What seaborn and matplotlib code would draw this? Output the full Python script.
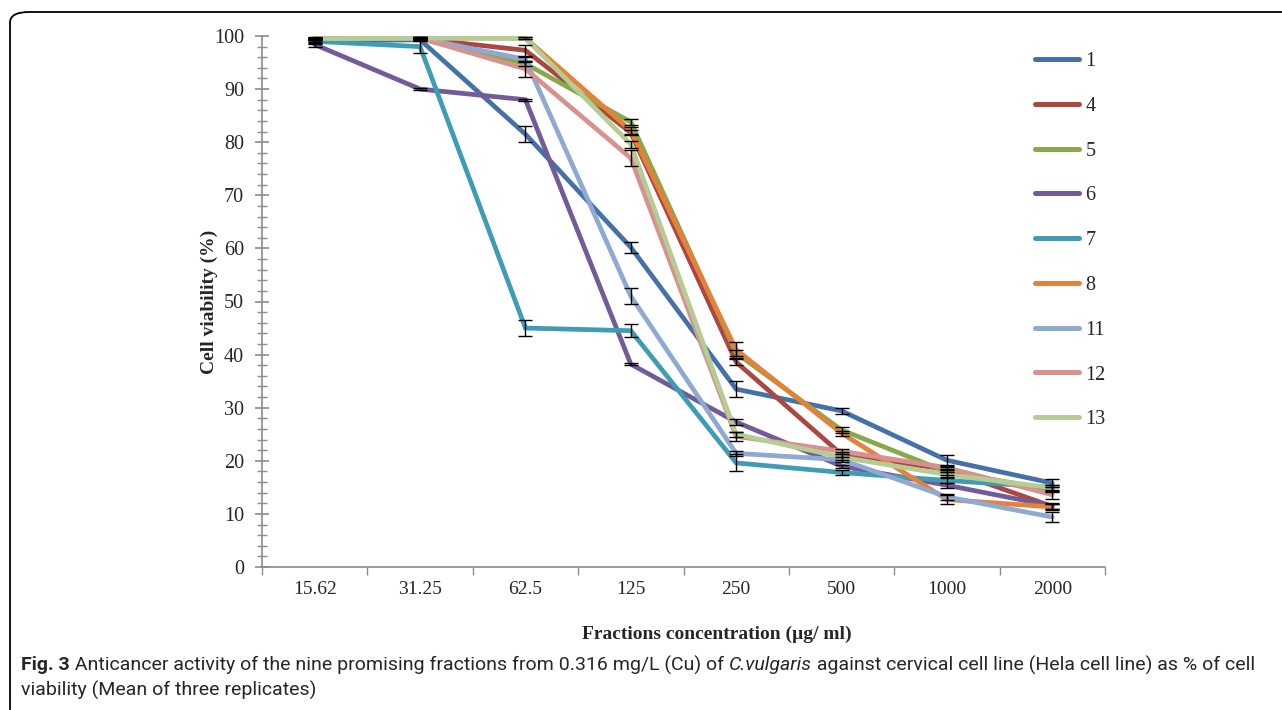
import numpy as np
import pandas as pd
import matplotlib
matplotlib.use("Agg")
import matplotlib.pyplot as plt
from matplotlib.patches import FancyBboxPatch
from matplotlib import font_manager
import seaborn as sns

concentrations = ["15.62", "31.25", "62.5", "125", "250", "500", "1000", "2000"]
fractions = ["1", "4", "5", "6", "7", "8", "11", "12", "13"]

v1 = [99.0, 99.3, 81.5, 60.2, 33.5, 29.4, 20.1, 15.8]
v4 = [99.5, 99.5, 97.3, 81.8, 38.6, 21.2, 18.4, 11.4]
v5 = [99.5, 99.5, 94.8, 83.8, 40.3, 25.8, 17.9, 14.6]
v6 = [98.4, 90.0, 88.0, 38.2, 27.3, 19.0, 15.4, 11.5]
v7 = [99.0, 98.0, 45.0, 44.5, 19.6, 17.8, 16.3, 15.0]
v8 = [99.6, 99.6, 99.6, 82.2, 40.9, 25.2, 12.7, 11.3]
v11 = [99.5, 99.6, 95.6, 51.0, 21.4, 20.2, 13.2, 9.4]
v12 = [99.5, 99.6, 93.8, 77.0, 24.6, 21.8, 18.7, 13.6]
v13 = [99.5, 99.6, 99.6, 79.6, 25.0, 20.7, 17.4, 14.9]

e1 = [0.5, 0.3, 1.5, 1.0, 1.5, 0.5, 1.0, 0.8]
e4 = [0.2, 0.2, 1.0, 0.5, 0.5, 0.5, 0.5, 0.5]
e5 = [0.2, 0.2, 0.5, 0.6, 0.5, 0.5, 0.5, 0.5]
e6 = [0.5, 0.2, 0.2, 0.2, 0.5, 0.3, 0.5, 0.5]
e7 = [0.3, 1.2, 1.5, 1.2, 1.6, 0.5, 0.5, 0.5]
e8 = [0.2, 0.2, 0.2, 0.6, 1.5, 0.5, 0.8, 0.5]
e11 = [0.2, 0.2, 0.5, 1.5, 0.5, 0.5, 0.6, 1.0]
e12 = [0.2, 0.2, 1.5, 1.5, 0.8, 0.5, 0.5, 0.8]
e13 = [0.2, 0.2, 0.2, 0.6, 0.5, 0.5, 0.5, 0.5]

values = [v1, v4, v5, v6, v7, v8, v11, v12, v13]
errors = [e1, e4, e5, e6, e7, e8, e11, e12, e13]
colors = ["#4472A8", "#AB4643", "#87A94A", "#735A98", "#3F9CB5",
          "#E5823A", "#8EA9D2", "#D79290", "#B5CC93"]

rows = []
for f, vals, errs in zip(fractions, values, errors):
    for i, (c, v, e) in enumerate(zip(concentrations, vals, errs)):
        rows.append({"fraction": f, "pos": i, "conc": c, "viability": v, "err": e})
df = pd.DataFrame(rows)

sns.set_style("white")
plt.rcParams["font.family"] = ["Liberation Serif", "DejaVu Serif"]

W, H = 1282, 710
fig = plt.figure(figsize=(W / 100, H / 100), dpi=100)
ax = fig.add_axes([262 / W, 1 - 567 / H, (1105 - 262) / W, (567 - 36) / H])

palette = dict(zip(fractions, colors))
sns.lineplot(data=df, x="pos", y="viability", hue="fraction", hue_order=fractions,
             palette=palette, linewidth=3.4, ax=ax, legend=True,
             solid_capstyle="round", solid_joinstyle="miter", zorder=2)

ax.errorbar(df["pos"], df["viability"], yerr=df["err"], fmt="none",
            ecolor="black", elinewidth=1.0, capsize=5, capthick=1.0, zorder=3)

ax.set_xlim(-0.5, 7.5)
ax.set_ylim(0, 100)
ax.set_xticks(range(len(concentrations)))
ax.set_xticklabels(concentrations)
ax.set_xticks(np.arange(-0.5, 8.0, 1.0), minor=True)
ax.set_yticks(np.arange(0, 101, 10))
ax.set_yticks(np.arange(0, 101, 2), minor=True)

for side in ["top", "right"]:
    ax.spines[side].set_visible(False)
for side in ["left", "bottom"]:
    ax.spines[side].set_color("#8C8C8C")
    ax.spines[side].set_linewidth(1.2)

ax.tick_params(axis="y", which="major", direction="inout", length=10, width=1.2,
               color="#8C8C8C", labelsize=14.5, pad=8, left=True)
ax.tick_params(axis="y", which="minor", direction="inout", length=7, width=1.0,
               color="#8C8C8C", left=True)
ax.tick_params(axis="x", which="major", length=0, labelsize=14, pad=10)
ax.tick_params(axis="x", which="minor", direction="out", length=6, width=1.0,
               color="#8C8C8C", bottom=True)

ax.set_xlabel("Fractions concentration (µg/ ml)", fontsize=14, fontweight="bold")
ax.xaxis.set_label_coords((717 - 262) / (1105 - 262), -0.11)
ax.set_ylabel("Cell viability (%)", fontsize=14, fontweight="bold")
ax.yaxis.set_label_coords(-0.052, 0.5)

handles, labels = ax.get_legend_handles_labels()
ax.legend_.remove()
for h in handles:
    h.set_linewidth(3.6)
    h.set_solid_capstyle("round")
fig.legend(handles, labels, loc="upper left", bbox_to_anchor=(1035 / W, 1 - 52 / H),
           frameon=False, fontsize=14.5, handlelength=2.2, handletextpad=0.3,
           labelspacing=1.275, borderpad=0, borderaxespad=0)

box = FancyBboxPatch((10 / W, -0.05), 1.2, (H - 12) / H + 0.05,
                     boxstyle="round,pad=0,rounding_size=0.015",
                     transform=fig.transFigure, fill=False, edgecolor="black",
                     linewidth=1.3, clip_on=False)
fig.patches.append(box)

names = {f.name for f in font_manager.fontManager.ttflist}
cap_font = ["Liberation Sans Narrow"] if "Liberation Sans Narrow" in names else ["Roboto", "DejaVu Sans"]
cap_size = 14

fig.canvas.draw()
renderer = fig.canvas.get_renderer()
x = 21
y1 = 1 - 665 / H
parts = [("Fig. 3", "bold", "normal"),
         (" Anticancer activity of the nine promising fractions from 0.316 mg/L (Cu) of ", "normal", "normal"),
         ("C.vulgaris", "normal", "italic"),
         (" against cervical cell line (Hela cell line) as % of cell", "normal", "normal")]
for txt, wt, st in parts:
    t = fig.text(x / W, y1, txt, fontsize=cap_size, fontweight=wt, fontstyle=st,
                 family=cap_font, va="center", ha="left")
    bb = t.get_window_extent(renderer=renderer)
    x = bb.x1
fig.text(21 / W, 1 - 690 / H, "viability (Mean of three replicates)",
         fontsize=cap_size, family=cap_font, va="center", ha="left")

fig.savefig("out.png", dpi=100)
